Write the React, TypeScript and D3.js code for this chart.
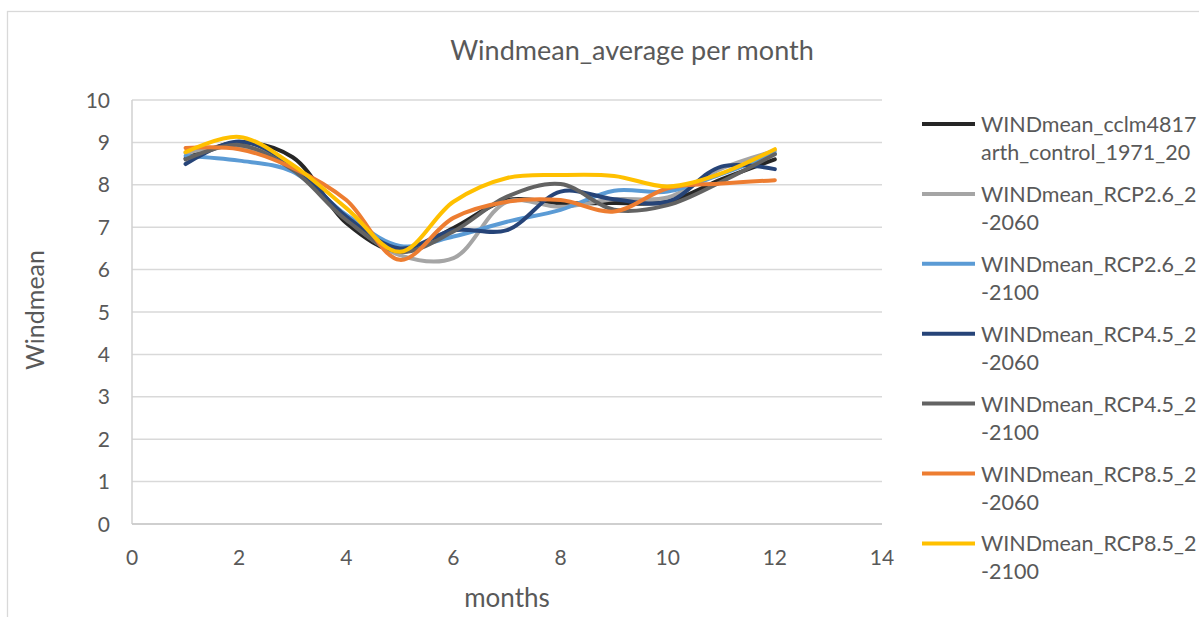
import * as d3 from "d3";

const months = [1, 2, 3, 4, 5, 6, 7, 8, 9, 10, 11, 12];

const control = [8.62, 9.0, 8.65, 7.1, 6.42, 6.98, 7.64, 7.57, 7.57, 7.6, 8.13, 8.6];
const rcp26_2060 = [8.75, 8.9, 8.4, 7.2, 6.34, 6.27, 7.6, 7.48, 7.66, 7.7, 8.38, 8.8];
const rcp26_2100 = [8.68, 8.57, 8.31, 7.29, 6.56, 6.78, 7.13, 7.41, 7.86, 7.84, 8.25, 8.74];
const rcp45_2060 = [8.49, 9.02, 8.45, 7.25, 6.5, 6.93, 6.93, 7.84, 7.66, 7.6, 8.43, 8.37];
const rcp45_2100 = [8.6, 8.94, 8.35, 7.17, 6.42, 6.9, 7.72, 8.02, 7.41, 7.52, 8.07, 8.72];
const rcp85_2060 = [8.87, 8.84, 8.4, 7.64, 6.23, 7.22, 7.6, 7.64, 7.37, 7.92, 8.03, 8.11];
const rcp85_2100 = [8.77, 9.13, 8.47, 7.45, 6.42, 7.6, 8.16, 8.23, 8.21, 7.96, 8.27, 8.84];

const legendLabels = [
  ["WINDmean_cclm4817", "arth_control_1971_20"],
  ["WINDmean_RCP2.6_2", "-2060"],
  ["WINDmean_RCP2.6_2", "-2100"],
  ["WINDmean_RCP4.5_2", "-2060"],
  ["WINDmean_RCP4.5_2", "-2100"],
  ["WINDmean_RCP8.5_2", "-2060"],
  ["WINDmean_RCP8.5_2", "-2100"],
];

const xTicks = [0, 2, 4, 6, 8, 10, 12, 14];
const yTicks = [0, 1, 2, 3, 4, 5, 6, 7, 8, 9, 10];

const series = [control, rcp26_2060, rcp26_2100, rcp45_2060, rcp45_2100, rcp85_2060, rcp85_2100];
const colors = ["#262626", "#a5a5a5", "#5b9bd5", "#264478", "#636363", "#ed7d31", "#ffc000"];

const font = "Lato, 'Open Sans', sans-serif";
const textColor = "#595959";

export default function App() {
  const x = d3.scaleLinear().domain([0, 14]).range([132, 882]);
  const y = d3.scaleLinear().domain([0, 10]).range([524, 100]);

  const line = d3
    .line<number>()
    .x((_, i) => x(months[i]))
    .y((d) => y(d))
    .curve(d3.curveCatmullRom.alpha(0.5));

  return (
    <svg
      width={1199}
      height={617}
      style={{ position: "absolute", left: 0, top: 0, background: "#fff" }}
      fontFamily={font}
    >
      <rect x={7.5} y={11.5} width={1400} height={800} fill="#fff" stroke="#d9d9d9" strokeWidth={1.3} />

      <text x={632} y={60} textAnchor="middle" fontSize={27} fill={textColor}>
        Windmean_average per month
      </text>

      {yTicks.map((t) => (
        <line key={"g" + t} x1={x(0)} x2={x(14)} y1={y(t)} y2={y(t)} stroke="#d9d9d9" strokeWidth={1.5} />
      ))}
      <line x1={x(0)} x2={x(0)} y1={y(0)} y2={y(10)} stroke="#d0d0d0" strokeWidth={1.5} />
      <line x1={x(0)} x2={x(14)} y1={y(0)} y2={y(0)} stroke="#c8c8c8" strokeWidth={1.5} />

      {yTicks.map((t) => (
        <text key={"yl" + t} x={110} y={y(t)} dy="0.36em" textAnchor="end" fontSize={21} fill={textColor}>
          {t}
        </text>
      ))}
      {xTicks.map((t) => (
        <text key={"xl" + t} x={x(t)} y={565} textAnchor="middle" fontSize={21} fill={textColor}>
          {t}
        </text>
      ))}

      <text x={507} y={607} textAnchor="middle" fontSize={26} fill={textColor}>
        months
      </text>
      <text
        transform={`translate(44,310) rotate(-90)`}
        textAnchor="middle"
        fontSize={25}
        fill={textColor}
      >
        Windmean
      </text>

      {series.map((s, i) => (
        <path
          key={"s" + i}
          d={line(s) || undefined}
          fill="none"
          stroke={colors[i]}
          strokeWidth={4}
          strokeLinecap="round"
        />
      ))}

      {legendLabels.map((lab, i) => {
        const ly = 124 + i * 69.9;
        return (
          <g key={"lg" + i}>
            <line x1={922} x2={975} y1={ly} y2={ly} stroke={colors[i]} strokeWidth={4} />
            <text x={981} y={ly + 8} fontSize={21.5} fill={textColor}>
              {lab[0]}
            </text>
            <text x={981} y={ly + 36} fontSize={21.5} fill={textColor}>
              {lab[1]}
            </text>
          </g>
        );
      })}
    </svg>
  );
}
